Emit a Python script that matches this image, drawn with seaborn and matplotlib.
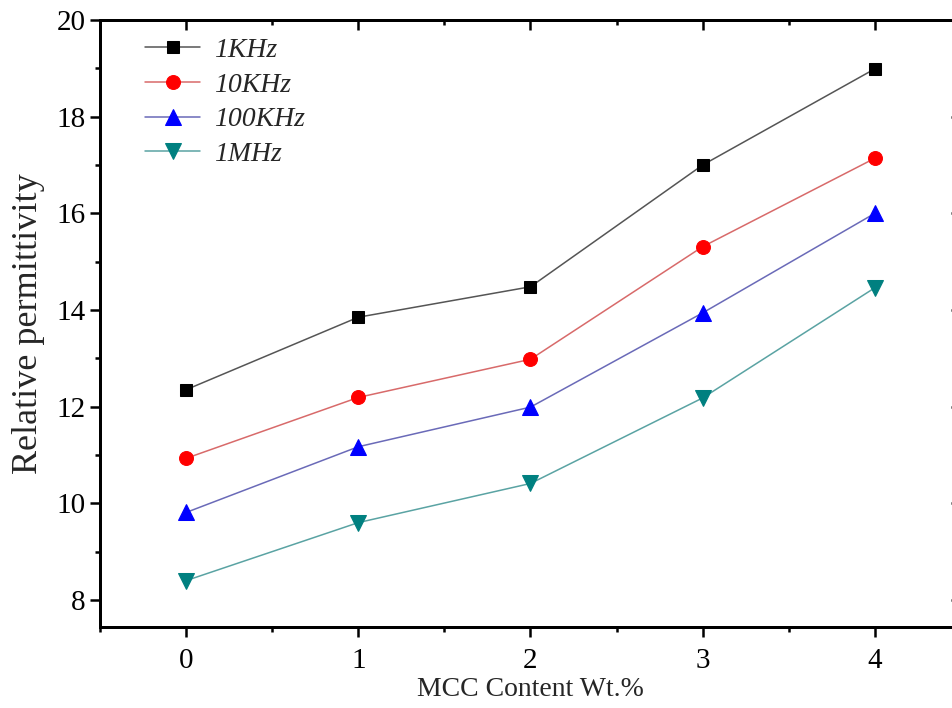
import seaborn as sns
import matplotlib.pyplot as plt
import pandas as pd
from matplotlib.ticker import MultipleLocator

# dati
mcc_content = [0, 1, 2, 3, 4]
perm_1khz = [12.35, 13.85, 14.48, 17.0, 18.99]
perm_10khz = [10.93, 12.19, 12.98, 15.31, 17.14]
perm_100khz = [9.81, 11.17, 11.99, 13.94, 16.0]
perm_1mhz = [8.40, 9.60, 10.41, 12.18, 14.46]
labels = ['1KHz', '10KHz', '100KHz', '1MHz']

sns.set_theme(style='ticks')
plt.rcParams['font.family'] = ['Liberation Serif', 'DejaVu Serif']

df = pd.DataFrame({'x': mcc_content * 4,
                   'y': perm_1khz + perm_10khz + perm_100khz + perm_1mhz,
                   'freq': [l for l in labels for _ in mcc_content]})

fig = plt.figure(figsize=(9.53, 7.08), dpi=100)
ax = fig.add_axes([100 / 953, 1 - 627 / 708, 861 / 953, 607 / 708])

styles = {
    '1KHz': dict(marker='s', mcolor='black', lcolor='#555555', ms=9),
    '10KHz': dict(marker='o', mcolor='#ff0000', lcolor='#d86a6a', ms=10),
    '100KHz': dict(marker='^', mcolor='#0000ff', lcolor='#6a6ab8', ms=11),
    '1MHz': dict(marker='v', mcolor='#008080', lcolor='#5aa3a3', ms=11),
}

for lab in labels:
    st = styles[lab]
    sub = df[df['freq'] == lab]
    sns.lineplot(data=sub, x='x', y='y', ax=ax,
                 color=st['lcolor'], linewidth=1.1,
                 marker=st['marker'], markersize=st['ms'],
                 markerfacecolor=st['mcolor'], markeredgecolor=st['mcolor'],
                 label=lab)

ax.set_xlim(-0.5, 4.5)
ax.set_ylim(7.44, 20)
ax.xaxis.set_major_locator(MultipleLocator(1))
ax.xaxis.set_minor_locator(MultipleLocator(0.5))
ax.yaxis.set_major_locator(MultipleLocator(2))
ax.yaxis.set_minor_locator(MultipleLocator(1))

ax.tick_params(which='both', direction='out', width=1.8, colors='black',
               labelsize=21, top=False, right=False)
ax.tick_params(which='major', length=7)
ax.tick_params(which='minor', length=3.5)
ax.tick_params(axis='x', which='major', pad=8)

# tick interni su asse superiore e destro
axt = ax.twiny()
axt.set_xlim(ax.get_xlim())
axt.xaxis.set_major_locator(MultipleLocator(1))
axt.xaxis.set_minor_locator(MultipleLocator(0.5))
axt.tick_params(which='both', direction='in', width=1.8, colors='black',
                labeltop=False)
axt.tick_params(which='major', length=7)
axt.tick_params(which='minor', length=3.5)
axr = ax.twinx()
axr.set_ylim(ax.get_ylim())
axr.yaxis.set_major_locator(MultipleLocator(2))
axr.yaxis.set_minor_locator(MultipleLocator(1))
axr.tick_params(which='both', direction='in', width=1.8, colors='black',
                labelright=False)
axr.tick_params(which='major', length=7)
axr.tick_params(which='minor', length=3.5)
for a in (ax, axt, axr):
    for s in a.spines.values():
        s.set_linewidth(2.0)
        s.set_color('black')

ax.set_xlabel('MCC Content Wt.%', fontsize=20, labelpad=2)
ax.set_ylabel('Relative permittivity', fontsize=26, labelpad=8)

leg = ax.legend(loc='upper left', bbox_to_anchor=(0.023, 1.012), frameon=False,
                handlelength=2.0, handletextpad=0.5,
                labelspacing=0.33, prop={'style': 'italic', 'size': 20})

fig.savefig('out.png', dpi=100)
